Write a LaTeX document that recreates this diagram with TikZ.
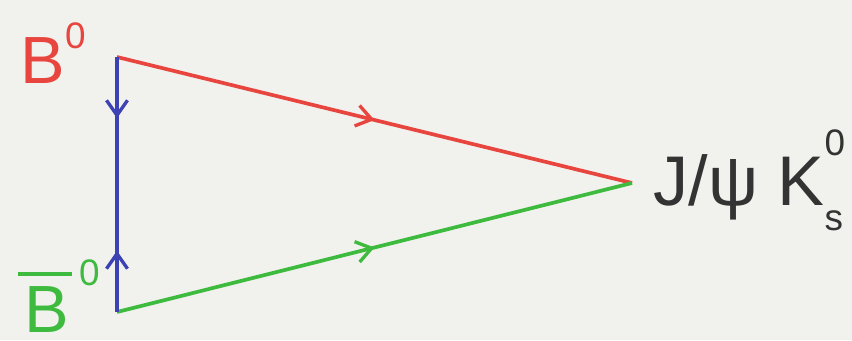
\documentclass[tikz,border=0pt]{standalone}
\usepackage{fontspec}
\setmainfont{Liberation Sans}
\usepackage{xcolor}
\usetikzlibrary{arrows.meta, positioning, decorations.markings}
\definecolor{bgpaper}{HTML}{F1F1ED}
\definecolor{bred}{HTML}{E8453F}
\definecolor{bblue}{HTML}{3C42B4}
\definecolor{bgreen}{HTML}{3EBB3E}
\definecolor{finalgray}{HTML}{333333}
\newcommand{\raisedidx}[2]{\raisebox{#1}{\fontsize{21}{21}\selectfont #2}}
\newcommand{\barB}{\rlap{\hspace{-0.14cm}\raisebox{1.12cm}{\rule{1.08cm}{2.4pt}}}B}
\tikzset{
    decayline/.style={
        line width=2.1pt,
        postaction={decorate},
        decoration={markings, mark=at position #1 with {\arrow{Straight Barb[length=3mm, width=4.2mm, line width=1.9pt]}}}
    },
    decayline/.default=0.5,
    statelabel/.style={
        inner sep=0pt,
        font=\fontsize{38}{42}\selectfont
    }
}

\begin{document}
\begin{tikzpicture}
    \useasboundingbox[fill=bgpaper] (0,0) rectangle (17.04,6.8);
    \coordinate (top) at (2.34,5.66);
    \coordinate (bottom) at (2.34,0.56);
    \coordinate (apex) at (12.64,3.14);
    \coordinate (mix) at (2.34,3.11);

    \node[statelabel, text=bred, below left=0.52cm and 0.62cm of top, anchor=base east] (b0) {B\raisedidx{0.7cm}{0}};
    \node[statelabel, text=bgreen, below left=0.4cm and 0.34cm of bottom, anchor=base east] (b0bar) {\barB\hspace{0.2cm}\raisedidx{0.94cm}{0}};
    \node[statelabel, text=finalgray, font=\fontsize{40}{44}\selectfont, below right=0.44cm and 0.42cm of apex, anchor=base west] (jpsik) {J/ψ K\rlap{\raisedidx{1.0cm}{0}}\raisedidx{-0.5cm}{s}};

    \draw[decayline=0.5, bred] (top) -- (apex);
    \draw[decayline=0.5, bgreen] (bottom) -- (apex);
    \draw[decayline=0.48, bblue] (top) -- (mix);
    \draw[decayline=0.48, bblue] (bottom) -- (mix);
\end{tikzpicture}
\end{document}
